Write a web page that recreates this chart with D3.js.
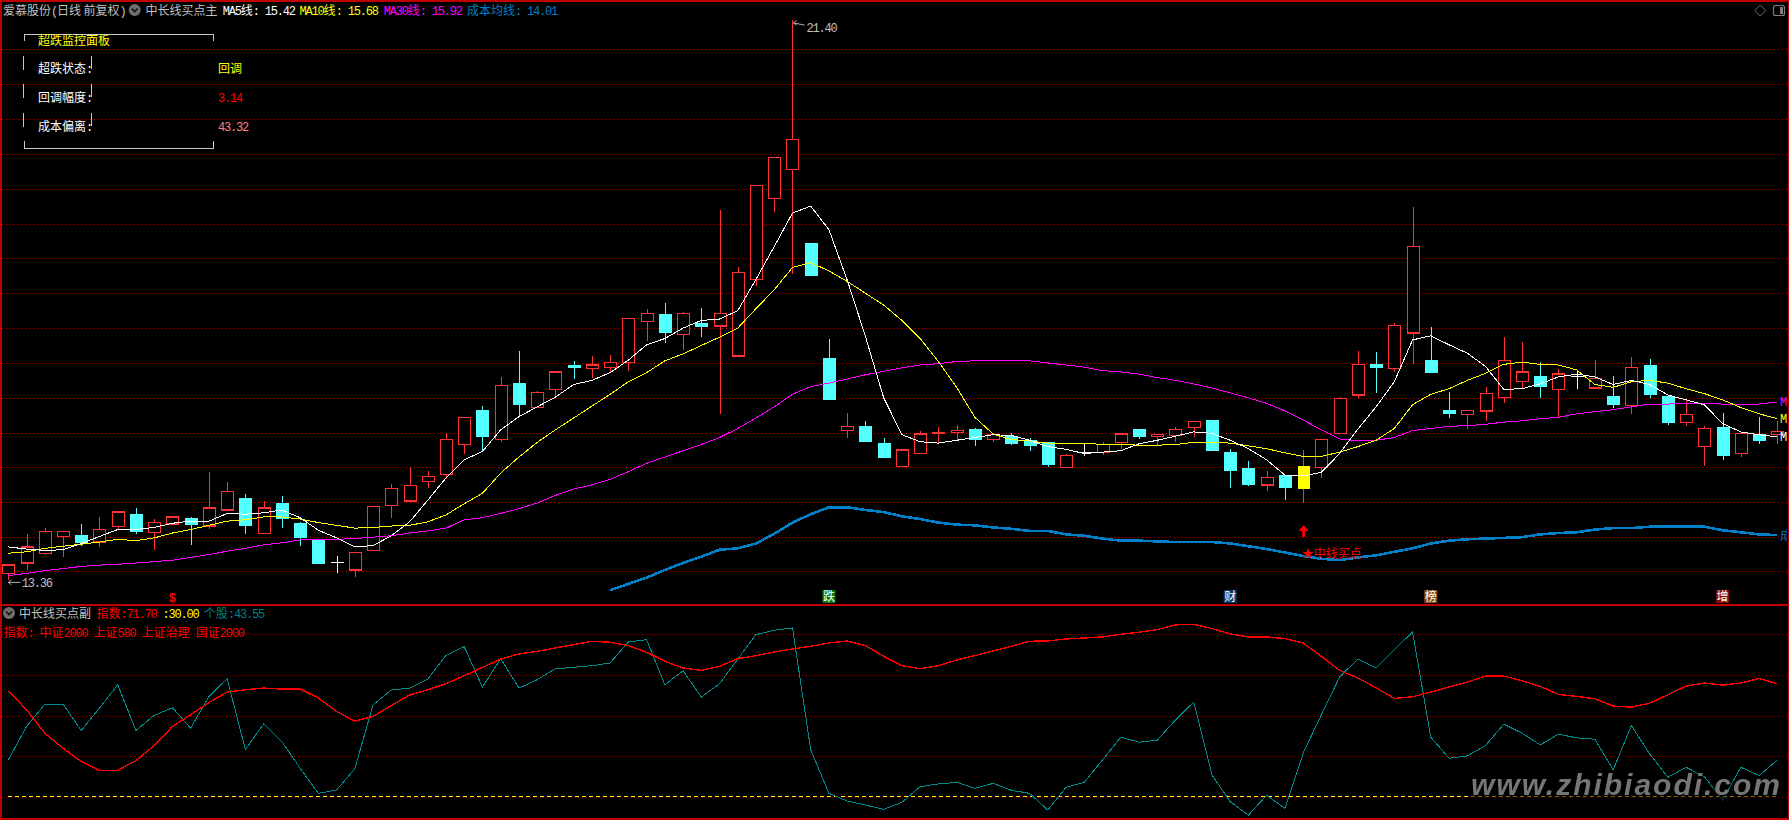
<!DOCTYPE html>
<html><head><meta charset="utf-8">
<style>html,body{margin:0;padding:0;background:#000;overflow:hidden}svg{display:block}</style>
<script src="https://cdn.jsdelivr.net/npm/d3@7/dist/d3.min.js"></script>
</head><body><svg id="c" width="1789" height="820"></svg>
<script>
const opens=[13.46,13.61,13.75,13.99,14.00,13.91,14.13,14.31,14.05,14.17,
14.24,14.14,14.37,14.53,14.03,14.46,14.17,13.94,13.62,13.51,
13.79,14.43,14.50,14.78,14.88,15.31,15.79,15.38,16.19,15.84,
16.10,16.44,16.40,16.41,16.49,17.08,17.17,16.89,17.05,17.01,
16.58,17.68,18.84,19.25,18.19,16.54,15.51,15.57,15.32,14.99,
15.18,15.47,15.48,15.52,15.38,15.43,15.36,15.33,14.98,15.19,
15.20,15.34,15.52,15.42,15.44,15.55,15.65,15.19,14.96,14.73,
14.86,14.67,14.98,15.47,16.02,16.46,16.40,16.91,16.51,15.80,
15.74,15.79,15.98,16.21,16.29,16.10,16.28,16.12,15.99,15.87,
16.44,15.99,15.63,15.28,15.55,15.18,15.45,15.45];
const closes=[13.58,13.84,14.06,14.06,13.91,14.09,14.34,14.07,14.19,14.27,
14.16,14.40,14.64,14.15,14.40,14.25,13.97,13.61,13.62,13.76,
14.42,14.68,14.72,14.85,15.38,15.70,15.42,16.16,15.88,16.06,
16.35,16.41,16.45,16.49,17.12,17.19,16.92,17.19,17.01,17.19,
17.78,19.03,19.43,19.69,17.73,15.96,15.57,15.36,15.13,15.23,
15.46,15.48,15.51,15.39,15.45,15.33,15.29,15.02,15.15,15.19,
15.31,15.46,15.43,15.45,15.53,15.64,15.23,14.94,14.74,14.84,
14.69,15.00,15.38,15.97,16.46,16.41,17.02,18.15,16.35,15.76,
15.80,16.04,16.52,16.35,16.14,16.32,16.28,16.26,15.89,16.42,
16.03,15.62,15.74,15.54,15.16,15.47,15.37,15.50];
const highs=[13.60,14.02,14.11,14.06,14.17,14.27,14.34,14.40,14.24,14.28,
14.27,14.92,14.77,14.60,14.50,14.57,14.20,13.94,13.71,13.76,
14.42,14.75,14.98,14.93,15.48,15.70,15.86,16.28,16.65,16.08,
16.35,16.51,16.58,16.59,17.12,17.25,17.34,17.21,17.27,18.67,
17.86,19.03,19.43,21.40,18.19,16.82,15.76,15.65,15.40,15.23,
15.50,15.56,15.59,15.55,15.48,15.47,15.40,15.33,15.17,15.33,
15.35,15.46,15.53,15.46,15.56,15.64,15.65,15.24,15.07,14.93,
14.86,15.23,15.38,15.99,16.65,16.64,17.05,18.72,17.00,16.06,
15.80,16.13,16.85,16.78,16.50,16.39,16.38,16.52,16.29,16.57,
16.54,16.01,15.95,15.57,15.76,15.49,15.71,15.65];
const lows=[13.36,13.51,13.72,13.70,13.86,13.84,14.09,14.02,13.80,14.15,
13.87,14.10,14.37,14.02,14.03,14.11,13.85,13.59,13.47,13.41,
13.79,14.26,14.50,14.69,14.81,15.18,15.20,15.35,15.71,15.84,
15.99,16.25,16.26,16.35,16.37,16.80,16.77,16.67,16.85,15.75,
16.58,17.58,18.65,17.76,17.73,15.96,15.41,15.35,15.12,14.99,
15.18,15.33,15.38,15.29,15.35,15.30,15.22,14.99,14.98,15.14,
15.16,15.25,15.39,15.30,15.35,15.42,15.22,14.69,14.71,14.64,
14.51,14.47,14.83,15.47,15.98,16.05,16.35,16.47,16.34,15.69,
15.53,15.65,15.90,16.12,15.98,15.70,16.11,16.12,15.83,15.75,
15.98,15.59,15.57,15.00,15.09,15.13,15.32,15.32];
const ma5=[13.84,13.81,13.79,13.80,13.89,13.99,14.09,14.09,14.12,14.18,
14.21,14.21,14.32,14.31,14.33,14.37,14.26,14.08,13.97,13.84,
13.86,14.00,14.20,14.51,14.83,15.09,15.21,15.52,15.71,15.85,
15.99,16.17,16.23,16.34,16.52,16.74,16.83,16.98,17.09,17.11,
17.23,17.68,18.15,18.63,18.73,18.39,17.67,16.86,15.98,15.45,
15.35,15.33,15.37,15.41,15.45,15.44,15.37,15.28,15.24,15.18,
15.20,15.22,15.32,15.37,15.43,15.49,15.47,15.37,15.25,15.09,
14.87,14.86,14.91,15.18,15.53,15.85,16.21,16.81,16.87,16.74,
16.62,16.43,16.10,16.11,16.18,16.28,16.32,16.28,16.17,16.23,
16.17,16.02,15.95,15.88,15.61,15.49,15.45,15.42];
const ma10=[13.75,13.77,13.82,13.85,13.88,13.91,13.95,13.93,13.97,14.04,
14.09,14.15,14.21,14.23,14.27,14.27,14.24,14.19,14.15,14.11,
14.12,14.14,14.15,14.20,14.30,14.46,14.61,14.90,15.13,15.34,
15.52,15.69,15.86,16.03,16.21,16.34,16.51,16.61,16.73,16.85,
16.98,17.26,17.53,17.85,17.92,17.80,17.65,17.48,17.31,17.09,
16.83,16.50,16.13,15.70,15.46,15.38,15.36,15.33,15.33,15.33,
15.31,15.31,15.30,15.30,15.31,15.34,15.34,15.33,15.29,15.25,
15.19,15.14,15.14,15.20,15.28,15.37,15.54,15.88,16.03,16.11,
16.23,16.33,16.46,16.49,16.46,16.45,16.38,16.17,16.13,16.21,
16.23,16.19,16.11,16.04,15.95,15.84,15.75,15.68];
const ma30=[13.43,13.46,13.50,13.53,13.56,13.58,13.59,13.61,13.63,13.65,
13.69,13.73,13.78,13.82,13.87,13.90,13.94,13.94,13.95,13.96,
13.98,14.00,14.04,14.07,14.11,14.23,14.26,14.32,14.39,14.47,
14.58,14.67,14.73,14.81,14.92,15.04,15.13,15.22,15.31,15.41,
15.54,15.69,15.85,16.03,16.14,16.19,16.25,16.31,16.36,16.41,
16.45,16.47,16.50,16.51,16.52,16.52,16.51,16.48,16.45,16.42,
16.37,16.35,16.32,16.27,16.23,16.18,16.12,16.05,15.98,15.90,
15.79,15.66,15.52,15.39,15.36,15.37,15.41,15.51,15.54,15.57,
15.58,15.60,15.63,15.65,15.68,15.70,15.75,15.78,15.81,15.85,
15.89,15.89,15.90,15.90,15.89,15.88,15.89,15.92];
const costStart=33;
const costLine=[13.22,13.31,13.40,13.51,13.61,13.70,13.80,13.82,13.89,14.03,
14.19,14.31,14.41,14.41,14.37,14.34,14.28,14.24,14.19,14.16,
14.15,14.12,14.10,14.07,14.07,14.02,14.00,13.96,13.93,13.93,
13.92,13.91,13.91,13.91,13.89,13.85,13.81,13.76,13.71,13.67,
13.65,13.69,13.72,13.77,13.82,13.89,13.93,13.95,13.96,13.97,
13.98,14.02,14.04,14.05,14.09,14.11,14.11,14.13,14.13,14.13,
14.13,14.08,14.05,14.02,14.01];
const indexLine=[69.15,62.11,53.47,47.91,42.97,39.76,39.76,43.34,48.90,55.94,
60.26,64.82,68.65,69.52,70.13,69.76,69.76,66.43,61.49,57.91,
59.64,63.71,67.54,69.52,71.74,74.70,77.79,80.87,82.73,83.71,
84.95,86.18,87.42,87.05,85.81,83.34,80.01,77.54,76.68,78.16,
81.00,82.11,83.47,84.58,85.57,86.80,87.54,85.81,81.86,78.40,
77.29,78.40,80.50,82.11,83.84,85.57,87.42,87.54,88.28,88.65,
89.02,90.01,90.75,91.74,93.47,93.71,92.11,90.13,89.02,89.02,
88.41,86.80,81.86,76.68,73.84,70.26,66.31,66.92,68.65,70.50,
72.36,74.58,74.58,72.85,70.75,67.79,67.05,66.18,63.47,63.10,
64.58,67.66,70.87,71.98,71.24,71.98,73.71,71.70];
const stockLine=[43.59,55.94,64.21,64.21,54.45,62.73,71.37,54.45,60.01,62.85,
55.32,67.05,73.59,47.42,56.92,50.38,40.50,31.24,32.48,40.26,
63.96,69.39,70.13,73.47,82.23,85.44,70.50,81.00,70.13,73.22,
77.29,77.79,78.40,79.39,87.17,88.03,71.37,76.55,66.80,71.74,
80.87,89.89,91.49,92.36,47.29,31.24,28.40,26.92,25.32,27.91,
33.71,34.70,35.32,33.10,34.95,32.35,31.24,25.07,33.47,35.32,
43.59,51.98,50.13,50.87,58.40,64.95,38.03,28.16,23.22,30.50,
25.69,46.06,60.26,74.21,80.87,77.54,84.33,90.87,51.98,44.21,
45.07,48.90,56.80,53.47,49.14,53.10,51.74,51.24,39.89,56.31,
45.81,37.17,40.87,37.42,28.77,40.87,37.79,43.55];
const thresholdValue=30;
const priceGrid=[20.98,20.48,19.98,19.48,18.98,18.48,17.98,17.48,16.98,16.48,15.98,15.48,14.98,14.48,13.98,13.49];
const subGrid=[90,75,60,45,30];
const buySignalIndex=71;
const newsIndex=[45,67,78,94];
const newsLabels=["跌","财","榜","增"];
const newsColors=["#007a10","#0a3a6a","#8a4a08","#8a0808"];
const dollarIndex=9;
const hiLabel="21.40", loLabel="13.36";
const panelRows=["超跌状态:","回调幅度:","成本偏离:"];
const panelVals=["回调","3.14","43.32"];
const panelCols=["#ffff00","#ff0000","#ff8080"];

const svg=d3.select("#c");
const RED="#ff3232",CY="#54ffff",BORDER="#c00000";
const x=d3.scaleLinear().domain([0,97]).range([8.3,1777.3]);
const y=d3.scaleLinear().domain([21.40,13.36]).range([20,580.4]);
const ys=d3.scaleLinear().domain([30,90]).range([796.7,634.3]);
const idx=d3.range(opens.length);

function label(px,py,txt,col,opt={}){
  const t=svg.append("text").attr("x",px).attr("y",py+4.5).attr("fill",col);
  const runs=txt.match(/[\u2E80-\uFFFF\u2605]+|[^\u2E80-\uFFFF\u2605]+/g);
  runs.forEach(r=>{
    const cjk=/[\u2E80-\uFFFF\u2605]/.test(r);
    const hair=opt.tight&&r===" ";
    t.append("tspan").text(r).style("white-space","pre")
     .style("font-family",cjk?"'Noto Sans CJK SC'":"'Liberation Mono'")
     .style("font-size",cjk?"12px":(hair?"4px":"12px"))
     .style("letter-spacing",cjk||hair?"0":"-1.2px");
  });
  return t;
}
// grid
const gridG=svg.append("g").attr("stroke-width",1).attr("stroke-dasharray","1 3").attr("shape-rendering","crispEdges");
gridG.selectAll("line.p").data(priceGrid).join("line").attr("stroke","#b00000").attr("x1",2).attr("x2",1787).attr("y1",d=>Math.round(y(d))+.5).attr("y2",d=>Math.round(y(d))+.5);
gridG.selectAll("line.s").data(subGrid,d=>"s"+d).join("line").attr("stroke","#900000").attr("x1",2).attr("x2",1787).attr("y1",d=>Math.round(ys(d))+.5).attr("y2",d=>Math.round(ys(d))+.5);

// candles
const colorOf=i=>i===buySignalIndex?"#ffff00":closes[i]>opens[i]?RED:closes[i]<opens[i]?CY:"#ffffff";
const wickCol=i=>i===buySignalIndex?RED:colorOf(i);
const bw=12;
const g=svg.append("g").attr("shape-rendering","crispEdges");
const px=i=>Math.round(x(i))+.5;
g.selectAll("line.w").data(idx).join("line").attr("x1",px).attr("x2",px)
 .attr("y1",i=>y(highs[i])).attr("y2",i=>y(lows[i])).attr("stroke",wickCol).attr("stroke-width",1.2);
g.selectAll("rect.b").data(idx).join("rect")
 .attr("x",i=>px(i)-bw/2).attr("width",bw)
 .attr("y",i=>y(Math.max(opens[i],closes[i])))
 .attr("height",i=>Math.max(.01,Math.abs(y(opens[i])-y(closes[i]))))
 .attr("fill",i=>(closes[i]>opens[i]&&i!==buySignalIndex)?"#000":colorOf(i))
 .attr("stroke",colorOf).attr("stroke-width",i=>i===buySignalIndex?0:1.2);

// lines
const lp=(arr,start=0,sc=y)=>d3.line().x((d,i)=>x(i+start)).y(d=>sc(d))(arr);
const lineG=svg.append("g").attr("shape-rendering","crispEdges").attr("fill","none");
[[ma30,"#ff00ff",1],[ma10,"#ffff00",1],[ma5,"#ffffff",1]].forEach(([a,c,w])=>
 lineG.append("path").attr("d",lp(a)).attr("stroke",c).attr("stroke-width",w));
lineG.append("path").attr("d",lp(costLine,costStart)).attr("stroke","#0080c8").attr("stroke-width",2.6);

// sub panel
lineG.append("path").attr("d",d3.line().x(i=>x(i)).y(()=>ys(thresholdValue))(idx)).attr("stroke","#ffff00").attr("stroke-width",1).attr("stroke-dasharray","4 3");
lineG.append("path").attr("d",lp(stockLine,0,ys)).attr("stroke","#008c8c").attr("stroke-width",1);
lineG.append("path").attr("d",lp(indexLine,0,ys)).attr("stroke","#ff0000").attr("stroke-width",1.4);

// borders
const bd=svg.append("g").attr("stroke",BORDER).attr("shape-rendering","crispEdges");
[[0,1,1789,1,2],[0,604.5,1789,604.5,2],[0,819,1789,819,2],[1,0,1,820,2],[1788.5,0,1788.5,820,1]].forEach(l=>
 bd.append("line").attr("x1",l[0]).attr("y1",l[1]).attr("x2",l[2]).attr("y2",l[3]).attr("stroke-width",l[4]));

// header
function icon(cx,cy){
  svg.append("circle").attr("cx",cx).attr("cy",cy).attr("r",6).attr("fill","#6e6e6e");
  svg.append("path").attr("d",`M${cx-3},${cy-1.5}L${cx},${cy+1.5}L${cx+3},${cy-1.5}`).attr("fill","none").attr("stroke","#111").attr("stroke-width",1.6);
}
label(3,10,"爱慕股份(日线 前复权)","#c0c0c0",{tight:true});
icon(134.7,10);
label(145.4,10,"中长线买点主","#c0c0c0");
label(222.7,10,"MA5线: 15.42","#ffffff");
label(299.6,10,"MA10线: 15.68","#ffff00");
label(383.8,10,"MA30线: 15.92","#ff00ff");
label(467,10,"成本均线: 14.01","#0080c8");
// top-right icons
svg.append("path").attr("d","M1760.3,5L1765.8,10.5L1760.3,16L1754.8,10.5Z").attr("fill","none").attr("stroke","#707070");
svg.append("rect").attr("x",1773.5).attr("y",5.5).attr("width",11).attr("height",10).attr("rx",2).attr("fill","none").attr("stroke","#808080").attr("stroke-width",1.2);
svg.append("rect").attr("x",1780).attr("y",7).attr("width",3).attr("height",7).attr("fill","#808080");

// monitor panel
const pb=svg.append("g").attr("stroke","#c8c8c8").attr("fill","none").attr("shape-rendering","crispEdges");
pb.append("path").attr("d","M24.5,41V34.5H213.5V41");
pb.append("path").attr("d","M24.5,141V148.5H213.5V141");
[[56,69.5],[84,98],[113,127]].forEach(([a,b])=>{
  pb.append("path").attr("d",`M23.5,${a}V${b}`);
  pb.append("path").attr("d",`M91.5,${a}V${b-1}`);
});
label(38,40,"超跌监控面板","#ffff00");
panelRows.forEach((r,i)=>{
  const py=[68,97,126][i];
  label(38,py,r,"#ffffff");
  label(218,py,panelVals[i],panelCols[i]);
});

// hi/lo tags
svg.append("path").attr("d",`M${x(43)+1},${y(21.40)+3}L${x(43)+12},${y(21.40)+5}M${x(43)+1},${y(21.40)+3}l3,-2.5M${x(43)+1},${y(21.40)+3}l3,2`).attr("fill","none").attr("stroke","#b0b0b0");
label(x(43)+14,y(21.40)+7,hiLabel,"#c0c0c0");
svg.append("path").attr("d",`M${x(0)},${y(13.36)+2}H${x(0)+12}M${x(0)},${y(13.36)+2}l3,-2.5M${x(0)},${y(13.36)+2}l3,2.5`).attr("fill","none").attr("stroke","#b0b0b0");
label(x(0)+13.5,y(13.36)+2.5,loLabel,"#c0c0c0");

// event tags
newsIndex.forEach((k,i)=>{
  svg.append("rect").attr("x",x(k)-6.5).attr("y",590).attr("width",13).attr("height",13).attr("fill",newsColors[i]);
  svg.append("text").attr("x",x(k)).attr("y",601).attr("text-anchor","middle")
    .style("font-family","'Noto Sans CJK SC'").style("font-size","12px").attr("fill","#ffffff").text(newsLabels[i]);
});
svg.append("text").attr("x",x(dollarIndex)).attr("y",602).attr("text-anchor","middle")
  .style("font-family","'Liberation Mono'").style("font-weight","bold").style("font-size","12px").attr("fill","#ff0000").text("$");

// buy signal
const bx=x(buySignalIndex)+.5;
svg.append("path").attr("d",`M${bx},525L${bx+5},531H${bx+1.5}V537H${bx-1.5}V531H${bx-5}Z`).attr("fill","#ff0000");
label(bx-2,553.3,"★中线买点","#ff0000");

// right clipped labels
const defs=svg.append("defs");
defs.append("clipPath").attr("id","rc").append("rect").attr("x",0).attr("y",0).attr("width",1787).attr("height",820);
const rg=svg.append("g").attr("clip-path","url(#rc)");
[["M",ma30[97],"#ff00ff"],["M",ma10[97],"#ffff00"],["M",ma5[97],"#ffffff"],["成",costLine[costLine.length-1],"#0080c8"]].forEach(([t,v,c])=>{
  rg.append("text").attr("x",1780).attr("y",y(v)+4.5)
   .style("font-family",t==="成"?"'Noto Sans CJK SC'":"'Liberation Mono'").style("font-size","12px").attr("fill",c).text(t);
});

// sub header
icon(9,613);
label(19,613,"中长线买点副","#c0c0c0");
label(96.4,613,"指数:71.70","#ff0000");
label(162.6,613,":30.00","#ffff00");
label(204,613,"个股:43.55","#008080");
label(3.5,632,"指数: 中证2000 上证580 上证治理 国证2000","#ff0000");

// watermark
svg.append("rect").attr("x",1470).attr("y",790).attr("width",310).attr("height",12).attr("fill","rgba(0,0,0,.5)");
svg.append("text").attr("x",1471).attr("y",795).attr("textLength",309).attr("lengthAdjust","spacing")
 .style("font-family","'Liberation Sans'").style("font-style","italic").style("font-weight","bold").style("font-size","30px")
 .attr("fill","#767676").style("filter","drop-shadow(0 0 2px #000)").text("www.zhibiaodi.com");
</script></body></html>
